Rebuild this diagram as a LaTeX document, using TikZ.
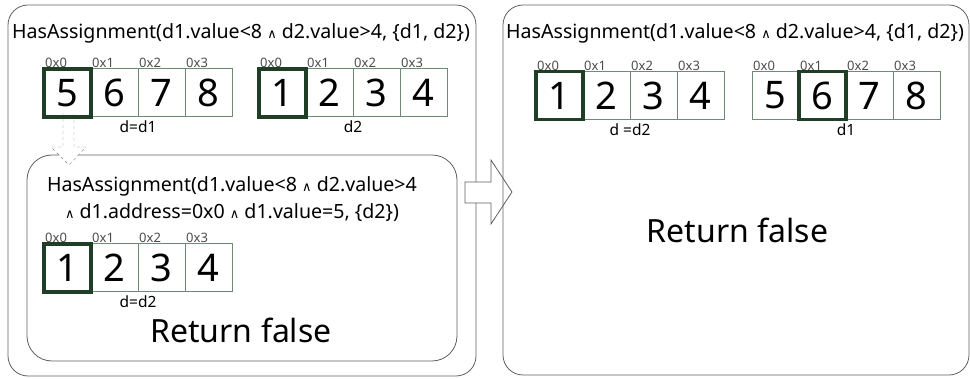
\documentclass[tikz,border=0pt]{standalone}
\usepackage{fontspec}
\setmainfont{Noto Sans}
\newfontfamily\symfont{DejaVu Sans}
\usetikzlibrary{positioning}

\definecolor{boxgray}{HTML}{5F5F5F}
\definecolor{cellgreen}{HTML}{6E8B76}
\definecolor{pickgreen}{HTML}{1E3F26}

% small wedge used inside the queries
\newcommand{\andsym}{{\symfont\fontsize{13}{13}\selectfont ∧}}

\tikzset{
	panel/.style={
		draw=boxgray,
		line width=0.8pt,
		rounded corners=20pt},
	cell/.style={
		rectangle,
		draw=cellgreen, line width=1pt,
		minimum width=47pt,
		minimum height=48pt,
		inner sep=0pt, outer sep=0pt,
		font=\fontsize{38}{38}\selectfont},
	pick/.style={
		draw=pickgreen,
		line width=3.6pt},
	addr/.style={
		anchor=south west,
		inner sep=1pt,
		text=black!70,
		font=\fontsize{13}{13}\selectfont},
	query/.style={
		inner sep=0pt,
		font=\fontsize{19.6}{27}\selectfont},
	varname/.style={
		inner sep=1pt,
		font=\fontsize{15.5}{15.5}\selectfont},
	result/.style={
		inner sep=0pt,
		font=\fontsize{32}{32}\selectfont},
	hollow/.style={
		draw=boxgray, fill=white,
		line width=0.8pt,
		line join=miter}
}

\begin{document}
\begin{tikzpicture}[x=1pt, y=-1pt]
\useasboundingbox (0,0) rectangle (970,379);

%% left panel
\draw[panel] (8,5) rectangle (476,376);
\node[query, anchor=base west] (q1) at (12,39) {HasAssignment(d1.value<8 \andsym\ d2.value>4, \{d1, d2\})};

\node[cell] (a1) at (67.5,93) {5};
\node[cell, right=0pt of a1] (a2) {6};
\node[cell, right=0pt of a2] (a3) {7};
\node[cell, right=0pt of a3] (a4) {8};
\node[addr] (a1x) at (a1.north west) {0x0};
\node[addr] (a2x) at (a2.north west) {0x1};
\node[addr] (a3x) at (a3.north west) {0x2};
\node[addr] (a4x) at (a4.north west) {0x3};
\node[varname, below=3pt of a2.south east] (av) {d=d1};

\node[cell] (b1) at (282.5,93) {1};
\node[cell, right=0pt of b1] (b2) {2};
\node[cell, right=0pt of b2] (b3) {3};
\node[cell, right=0pt of b3] (b4) {4};
\node[addr] (b1x) at (b1.north west) {0x0};
\node[addr] (b2x) at (b2.north west) {0x1};
\node[addr] (b3x) at (b3.north west) {0x2};
\node[addr] (b4x) at (b4.north west) {0x3};
\node[varname, below=3pt of b2.south east] (bv) {d2};

% nested call
\draw[panel, rounded corners=25pt] (27,155) rectangle (457,361);
\draw[dashed, draw=gray, fill=white] (63,113) -- (63,147) -- (51,147) -- (69,165) -- (86,147) -- (74,147) -- (74,113);
\draw[pick] (a1.north west) rectangle (a1.south east);
\draw[pick] (b1.north west) rectangle (b1.south east);

\node[query, align=center] (q2) at (232,199.5) {HasAssignment(d1.value<8 \andsym\ d2.value>4\\ \andsym\ d1.address=0x0 \andsym\ d1.value=5, \{d2\})};

\node[cell] (c1) at (67.5,268) {1};
\node[cell, right=0pt of c1] (c2) {2};
\node[cell, right=0pt of c2] (c3) {3};
\node[cell, right=0pt of c3] (c4) {4};
\node[addr] (c1x) at (c1.north west) {0x0};
\node[addr] (c2x) at (c2.north west) {0x1};
\node[addr] (c3x) at (c3.north west) {0x2};
\node[addr] (c4x) at (c4.north west) {0x3};
\node[varname, below=3pt of c2.south east] (cv) {d=d2};
\draw[pick] (c1.north west) rectangle (c1.south east);

\node[result, anchor=base] (r1) at (241,343) {Return false};

%% step to the right panel
\draw[hollow] (465,182) -- (491,182) -- (491,160) -- (512,192) -- (491,224) -- (491,203) -- (465,203) -- cycle;

%% right panel
\draw[panel] (503,5) rectangle (969,375);
\node[query, anchor=base west] (q3) at (506,39) {HasAssignment(d1.value<8 \andsym\ d2.value>4, \{d1, d2\})};

\node[cell] (e1) at (559.5,95.5) {1};
\node[cell, right=0pt of e1] (e2) {2};
\node[cell, right=0pt of e2] (e3) {3};
\node[cell, right=0pt of e3] (e4) {4};
\node[addr] (e1x) at (e1.north west) {0x0};
\node[addr] (e2x) at (e2.north west) {0x1};
\node[addr] (e3x) at (e3.north west) {0x2};
\node[addr] (e4x) at (e4.north west) {0x3};
\node[varname, below=3pt of e2.south east] (ev) {d =d2};

\node[cell] (f1) at (775.5,95.5) {5};
\node[cell, right=0pt of f1] (f2) {6};
\node[cell, right=0pt of f2] (f3) {7};
\node[cell, right=0pt of f3] (f4) {8};
\node[addr] (f1x) at (f1.north west) {0x0};
\node[addr] (f2x) at (f2.north west) {0x1};
\node[addr] (f3x) at (f3.north west) {0x2};
\node[addr] (f4x) at (f4.north west) {0x3};
\node[varname, below=3pt of f2.south east] (fv) {d1};
\draw[pick] (e1.north west) rectangle (e1.south east);
\draw[pick] (f2.north west) rectangle (f2.south east);

\node[result, anchor=base] (r2) at (737.5,243) {Return false};
\end{tikzpicture}
\end{document}
